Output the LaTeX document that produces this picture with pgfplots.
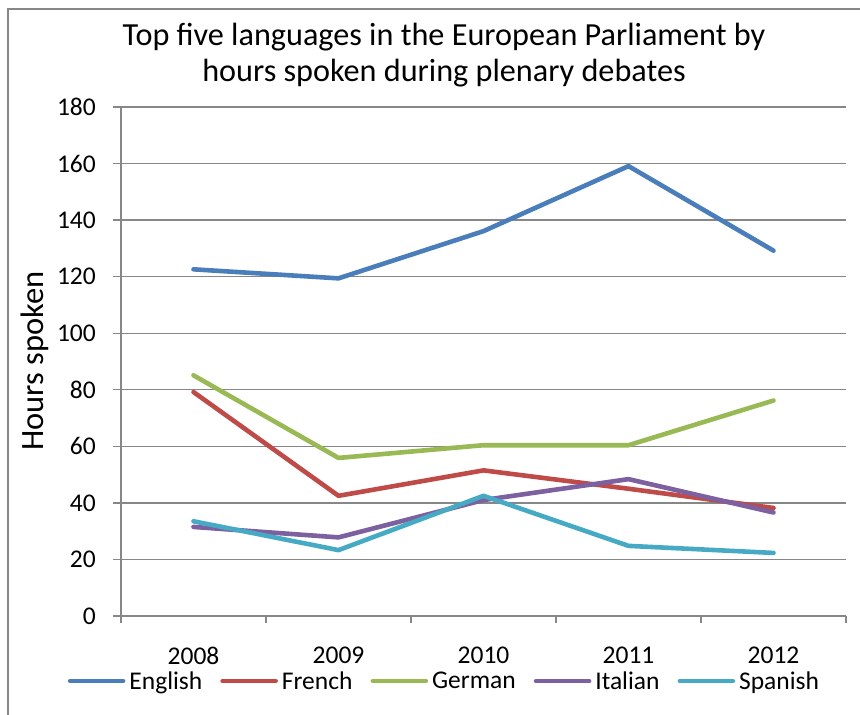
\documentclass[border=0pt]{standalone}
\usepackage{fontspec}
\setmainfont{Carlito}
\usepackage{pgfplots}
\pgfplotsset{compat=1.18}
\definecolor{cEng}{HTML}{4A7EBB}
\definecolor{cFre}{HTML}{BE4B48}
\definecolor{cGer}{HTML}{98B954}
\definecolor{cIta}{HTML}{7D60A0}
\definecolor{cSpa}{HTML}{46AAC5}
\definecolor{gridc}{HTML}{878787}
\begin{document}
\begin{tikzpicture}[x=1pt,y=1pt]
\path[use as bounding box] (0,0) rectangle (860,715);
\draw[color=gridc, line width=1.3pt] (8,0) -- (8,706) -- (860,706);
\begin{axis}[
  at={(121pt,99pt)}, anchor=south west,
  scale only axis, width=725pt, height=509pt,
  xmin=0, xmax=5, ymin=0, ymax=180,
  axis x line*=bottom, axis y line*=left,
  axis line style={draw=gridc, line width=1.3pt},
  ytick={0,20,...,180},
  xtick={0.5,1.5,2.5,3.5,4.5},
  xticklabels={2008,2009,2010,2011,2012},
  minor xtick={0,1,2,3,4,5},
  major x tick style={draw=none},
  minor x tick style={draw=gridc, line width=1.3pt},
  major y tick style={draw=gridc, line width=1.3pt},
  tick align=outside,
  major tick length=8pt, minor tick length=7pt,
  ymajorgrids, grid style={draw=gridc, line width=1.3pt},
  /pgf/number format/assume math mode=true,
  ticklabel style={font=\fontsize{25.5}{30}\selectfont, inner sep=0pt},
  yticklabel style={anchor=east, xshift=-17pt},
  xticklabel style={anchor=north, yshift=-23pt},
  ylabel={Hours spoken},
  ylabel style={at={(axis description cs:-0.1186,0.501)}, anchor=center, font=\fontsize{32.5}{38}\selectfont, inner sep=0pt},
  legend columns=5,
  legend style={at={(axis description cs:0.4448,-0.1277)}, anchor=center, draw=none, fill=none,
     font=\fontsize{25.5}{30}\selectfont, nodes={inner sep=0pt},
     /tikz/every odd column/.style={column sep=4pt},
     /tikz/every even column/.style={column sep=18pt}},
  legend image code/.code={\draw[#1] (0pt,0pt) -- (53pt,0pt);},
  every axis plot/.append style={line width=4.6pt, line cap=round, line join=round},
]
\addplot[cEng] coordinates {(0.5,122.6) (1.5,119.4) (2.5,136.1) (3.5,159.1) (4.5,129.2)};
\addlegendentry{English}
\addplot[cFre] coordinates {(0.5,79.2) (1.5,42.5) (2.5,51.5) (3.5,45.0) (4.5,38.2)};
\addlegendentry{French}
\addplot[cGer] coordinates {(0.5,85.1) (1.5,55.9) (2.5,60.4) (3.5,60.4) (4.5,76.2)};
\addlegendentry{German}
\addplot[cIta] coordinates {(0.5,31.5) (1.5,27.8) (2.5,41.0) (3.5,48.4) (4.5,36.6)};
\addlegendentry{Italian}
\addplot[cSpa] coordinates {(0.5,33.5) (1.5,23.3) (2.5,42.5) (3.5,24.8) (4.5,22.3)};
\addlegendentry{Spanish}
\end{axis}
\node[anchor=base, inner sep=0pt, font=\fontsize{32.2}{38}\selectfont] at (444,669.5) {Top five languages in the European Parliament by};
\node[anchor=base, inner sep=0pt, font=\fontsize{32.2}{38}\selectfont] at (444,633) {hours spoken during plenary debates};
\end{tikzpicture}
\end{document}
